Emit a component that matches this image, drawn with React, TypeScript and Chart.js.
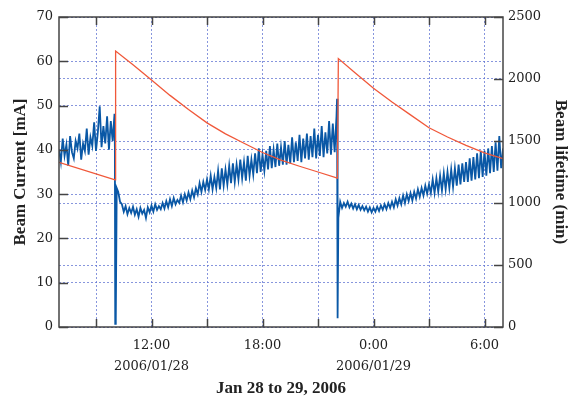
import { useEffect, useRef } from 'react';
import { Chart, registerables } from 'chart.js';

Chart.register(...registerables);

// Time axis: hours counted from 2006/01/28 00:00
const TIME_MIN = 7;
const TIME_MAX = 31;
const TIME_TICKS = [9, 12, 15, 18, 21, 24, 27, 30];
const TIME_LABELS: Record<number, string | string[]> = {
  12: ['12:00', '2006/01/28'],
  18: '18:00',
  24: ['0:00', '2006/01/29'],
  30: '6:00',
};

// Stored beam current [mA] (left axis)
const currentTimes = [
  7.0, 10.03, 10.06, 11, 12, 13, 14, 15, 16, 17, 18, 19, 20, 21, 22.05,
  22.1, 23, 24, 25, 26, 27, 28, 29, 30, 31,
];
const currentValues = [
  37.2, 33.2, 62.3, 59.2, 55.8, 52.3, 49.1, 46.1, 43.6, 41.5, 39.4, 37.7, 36.3, 35.0, 33.6,
  60.6, 57.4, 53.9, 50.8, 47.9, 45.0, 42.9, 41.0, 39.3, 38.0,
];

// Beam lifetime [min] (right axis), sampled every 6 minutes
const LIFE_STEP = 0.1;

const lifetimeBeforeFill1Start = 7.0;
const lifetimeBeforeFill1 = [
  1430, 1330, 1520, 1380, 1470, 1300, 1540, 1410, 1360, 1500, 1440, 1560, 1350, 1480, 1420, 1600,
  1390, 1530, 1460, 1650, 1420, 1570, 1780, 1450, 1620, 1480, 1700, 1430, 1660, 1500, 1720,
];

const lifetimeFill1Times = [10.02, 10.04, 10.06, 10.08, 10.12];
const lifetimeFill1Values = [1450, 25, 440, 60, 1120];

const lifetimeBetweenFillsStart = 10.2;
const lifetimeBetweenFills = [
  1090, 1010, 990, 930, 975, 910, 960, 920, 970, 905,
  950, 890, 960, 915, 945, 880, 965, 925, 980, 930,
  990, 945, 975, 950, 1000, 955, 1015, 965, 1030, 975,
  1040, 990, 1025, 1000, 1060, 1005, 1070, 1020, 1085, 1030,
  1100, 1045, 1120, 1070, 1160, 1090, 1170, 1105, 1190, 1110,
  1220, 1110, 1210, 1120, 1260, 1110, 1280, 1140, 1270, 1150,
  1300, 1160, 1320, 1170, 1310, 1190, 1350, 1200, 1330, 1180,
  1380, 1220, 1350, 1230, 1400, 1240, 1440, 1250, 1390, 1260,
  1420, 1270, 1460, 1280, 1430, 1290, 1480, 1300, 1450, 1310,
  1500, 1310, 1470, 1320, 1530, 1330, 1490, 1340, 1550, 1330,
  1520, 1360, 1560, 1350, 1540, 1370, 1600, 1360, 1550, 1380,
  1620, 1370, 1570, 1400, 1660, 1390, 1640, 1410, 1700,
];

const lifetimeFill2Times = [22.03, 22.05, 22.07, 22.1];
const lifetimeFill2Values = [1840, 1420, 70, 880];

const lifetimeAfterFill2Start = 22.2;
const lifetimeAfterFill2 = [
  1010, 960, 1000, 970, 1010, 965, 995, 955, 990, 950,
  985, 945, 975, 940, 970, 930, 965, 925, 960, 930,
  970, 935, 980, 945, 990, 950, 1000, 960, 1010, 965,
  1030, 980, 1040, 990, 1060, 1000, 1070, 1015, 1080, 1020,
  1090, 1035, 1110, 1050, 1120, 1060, 1140, 1075, 1150, 1080,
  1190, 1080, 1200, 1090, 1220, 1100, 1240, 1110, 1250, 1120,
  1270, 1130, 1280, 1140, 1310, 1150, 1320, 1170, 1330, 1170,
  1360, 1180, 1370, 1190, 1400, 1200, 1420, 1210, 1420, 1220,
  1440, 1240, 1460, 1250, 1490, 1260, 1540, 1280, 1440,
];

type Pt = { x: number; y: number };

const sampled = (start: number, values: number[]): Pt[] =>
  values.map((v, i) => ({ x: Math.round((start + i * LIFE_STEP) * 100) / 100, y: v }));

const paired = (times: number[], values: number[]): Pt[] =>
  times.map((t, i) => ({ x: t, y: values[i] }));

const currentPoints = paired(currentTimes, currentValues);
const lifetimePoints: Pt[] = [
  ...sampled(lifetimeBeforeFill1Start, lifetimeBeforeFill1),
  ...paired(lifetimeFill1Times, lifetimeFill1Values),
  ...sampled(lifetimeBetweenFillsStart, lifetimeBetweenFills),
  ...paired(lifetimeFill2Times, lifetimeFill2Values),
  ...sampled(lifetimeAfterFill2Start, lifetimeAfterFill2),
];

const SERIF = "'Liberation Serif', 'Times New Roman', serif";
const TICK_FONT = "'DejaVu Serif', serif";
const GRID_COLOR = 'rgba(95, 115, 210, 0.75)';
const FRAME_COLOR = '#444';

// Frame around the plot with short inward tick marks on all four sides
const framePlugin = {
  id: 'frameTicks',
  afterDraw(chart: any) {
    const { ctx, chartArea } = chart;
    const { left, right, top, bottom } = chartArea;
    const len = 8;
    ctx.save();
    ctx.strokeStyle = FRAME_COLOR;
    ctx.lineWidth = 1.5;
    ctx.beginPath();
    const x = chart.scales.x;
    x.ticks.forEach((t: any) => {
      const px = Math.round(x.getPixelForValue(t.value)) + 0.5;
      ctx.moveTo(px, bottom);
      ctx.lineTo(px, bottom - len);
      ctx.moveTo(px, top);
      ctx.lineTo(px, top + len);
    });
    const y = chart.scales.y;
    y.ticks.forEach((t: any) => {
      const py = Math.round(y.getPixelForValue(t.value)) + 0.5;
      ctx.moveTo(left, py);
      ctx.lineTo(left + len + 1, py);
    });
    const y1 = chart.scales.y1;
    y1.ticks.forEach((t: any) => {
      const py = Math.round(y1.getPixelForValue(t.value)) + 0.5;
      ctx.moveTo(right, py);
      ctx.lineTo(right - len - 1, py);
    });
    ctx.stroke();
    ctx.strokeRect(left, top, right - left, bottom - top);
    ctx.restore();
  },
};

export default function App() {
  const canvasRef = useRef<HTMLCanvasElement | null>(null);

  useEffect(() => {
    document.body.style.margin = '0';
    const canvas = canvasRef.current;
    if (!canvas) return;
    const chart = new Chart(canvas, {
      type: 'line',
      data: {
        datasets: [
          {
            label: 'Beam Current',
            data: currentPoints,
            yAxisID: 'y',
            borderColor: '#f0583a',
            borderWidth: 1.3,
            pointRadius: 0,
            tension: 0,
            order: 1,
          },
          {
            label: 'Beam lifetime',
            data: lifetimePoints,
            yAxisID: 'y1',
            borderColor: '#0a58a6',
            borderWidth: 1.8,
            pointRadius: 0,
            tension: 0,
            order: 2,
          },
        ],
      },
      options: {
        responsive: false,
        animation: false,
        events: [],
        layout: { padding: { top: 17, left: 0, right: 0, bottom: 0 } },
        plugins: {
          legend: { display: false },
          tooltip: { enabled: false },
        },
        scales: {
          x: {
            type: 'linear',
            position: 'bottom',
            min: TIME_MIN,
            max: TIME_MAX,
            afterBuildTicks: (scale: any) => {
              scale.ticks = TIME_TICKS.map((v) => ({ value: v }));
            },
            afterFit: (scale: any) => {
              scale.height = 74;
            },
            ticks: {
              autoSkip: false,
              maxRotation: 0,
              padding: 8,
              color: '#222',
              font: { family: TICK_FONT, size: 13, lineHeight: '21px' },
              callback: (v: any) => TIME_LABELS[Number(v)] ?? '',
            },
            grid: { color: GRID_COLOR, lineWidth: 1, drawTicks: false },
            border: { display: false, dash: [2, 2] },
            title: {
              display: true,
              text: 'Jan 28 to 29, 2006',
              color: '#222',
              font: { family: SERIF, size: 17, weight: 'bold', lineHeight: 1.2 },
              padding: { top: 0, bottom: 2 },
            },
          },
          y: {
            type: 'linear',
            position: 'left',
            min: 0,
            max: 70,
            afterFit: (scale: any) => {
              scale.width = 59;
            },
            ticks: {
              stepSize: 10,
              padding: 6,
              color: '#222',
              font: { family: TICK_FONT, size: 13 },
            },
            grid: { color: GRID_COLOR, lineWidth: 1, drawTicks: false },
            border: { display: false, dash: [2, 2] },
            title: {
              display: true,
              text: 'Beam Current [mA]',
              color: '#222',
              font: { family: SERIF, size: 17, weight: 'bold', lineHeight: 1.2 },
              padding: { top: 10, bottom: 0 },
            },
          },
          y1: {
            type: 'linear',
            position: 'right',
            min: 0,
            max: 2500,
            afterFit: (scale: any) => {
              scale.width = 66;
            },
            ticks: {
              stepSize: 500,
              padding: 5,
              color: '#222',
              font: { family: TICK_FONT, size: 13 },
              callback: (v: any) => String(v),
            },
            grid: { color: GRID_COLOR, lineWidth: 1, drawTicks: false, drawOnChartArea: true },
            border: { display: false, dash: [2, 2] },
            title: {
              display: true,
              text: 'Beam lifetime (min)',
              color: '#222',
              font: { family: SERIF, size: 17, weight: 'bold', lineHeight: 1 },
              padding: { top: 0, bottom: 0 },
            },
          },
        },
      },
      plugins: [framePlugin],
    });
    return () => chart.destroy();
  }, []);

  return (
    <div style={{ position: 'fixed', left: 0, top: 0, width: 569, height: 401, background: '#fff' }}>
      <canvas ref={canvasRef} width={569} height={401} />
    </div>
  );
}
